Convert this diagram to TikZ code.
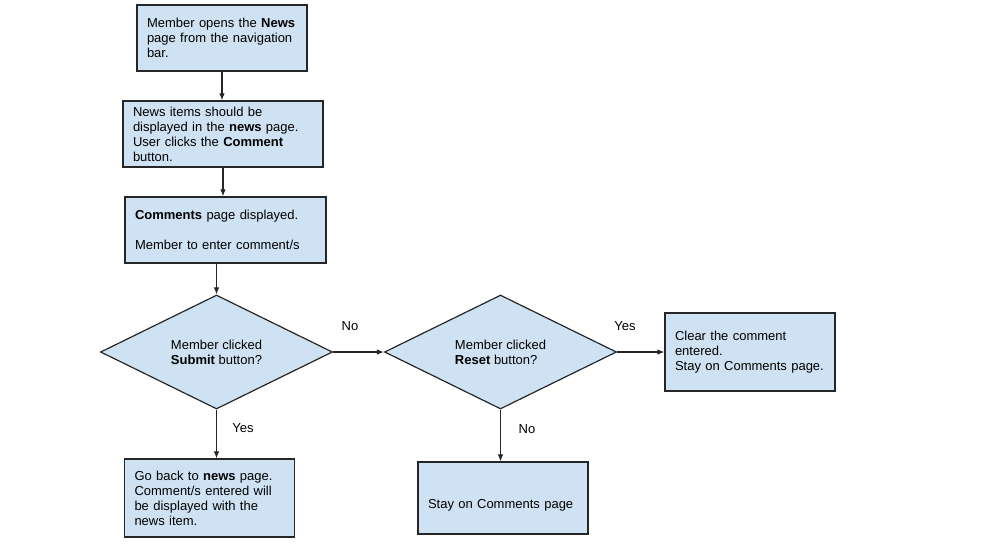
\documentclass[tikz,border=0pt]{standalone}
\usepackage{fontspec}
\setmainfont{Liberation Sans}
\usetikzlibrary{shapes.geometric,arrows.meta}
\definecolor{boxblue}{HTML}{CFE2F3}
\definecolor{edgegray}{HTML}{262626}

\begin{document}
\begin{tikzpicture}[x=1pt, y=-1pt,
    font=\fontsize{13}{15}\selectfont,
    box/.style={draw=edgegray, fill=boxblue, line width=1.2pt, rectangle,
        align=left, inner xsep=10pt, inner ysep=0pt},
    decision/.style={draw=edgegray, fill=boxblue, line width=1.2pt, diamond,
        aspect=2.03, inner sep=0pt, minimum width=232pt, minimum height=114pt,
        align=left},
    flow/.style={edgegray, line width=1.1pt, -{Latex[length=7pt,width=5.5pt]}},
    lbl/.style={inner sep=0pt}]

    \useasboundingbox (0,0) rectangle (1000,550);

    % Main column
    \node[box, text width=150pt, minimum height=66pt] (open) at (222,38)
        {Member opens the \textbf{News}\\page from the navigation\\bar.};
    \node[box, text width=180pt, minimum height=66pt] (items) at (223,134)
        {News items should be\\displayed in the \textbf{news} page.\\User clicks the \textbf{Comment}\\button.};
    \node[box, text width=181pt, minimum height=66pt] (comments) at (225.5,230)
        {\textbf{Comments} page displayed.\\[15pt]Member to enter comment/s};

    % Decisions
    \node[decision] (submit) at (216.5,352) {Member clicked\\\textbf{Submit} button?};
    \node[decision] (reset) at (500.5,352) {Member clicked\\\textbf{Reset} button?};

    % Outcomes
    \node[box, text width=150pt, minimum height=78pt] (clear) at (750,352)
        {Clear the comment\\entered.\\Stay on Comments page.};
    \node[box, text width=150pt, minimum height=78pt] (goback) at (209.5,498)
        {Go back to \textbf{news} page.\\Comment/s entered will\\be displayed with the\\news item.};
    \node[box, text width=150pt, minimum height=72pt] (stay) at (503,498)
        {\vphantom{X}\\Stay on Comments page};

    % Connectors
    \draw[flow] (open.south) -- (open.south |- items.north);
    \draw[flow] (items.south) -- (items.south |- comments.north);
    \draw[flow] (submit.north |- comments.south) -- (submit.north);
    \draw[flow] (submit.east) -- (reset.west);
    \draw[flow] (reset.east) -- (clear.west);
    \draw[flow] (submit.south) -- (submit.south |- goback.north);
    \draw[flow] (reset.south) -- (reset.south |- stay.north);

    % Labels
    \node[lbl] (no1) at (350,326) {No};
    \node[lbl] (yes1) at (625,326) {Yes};
    \node[lbl] (yes2) at (243,428) {Yes};
    \node[lbl] (no2) at (527,429) {No};

\end{tikzpicture}
\end{document}
